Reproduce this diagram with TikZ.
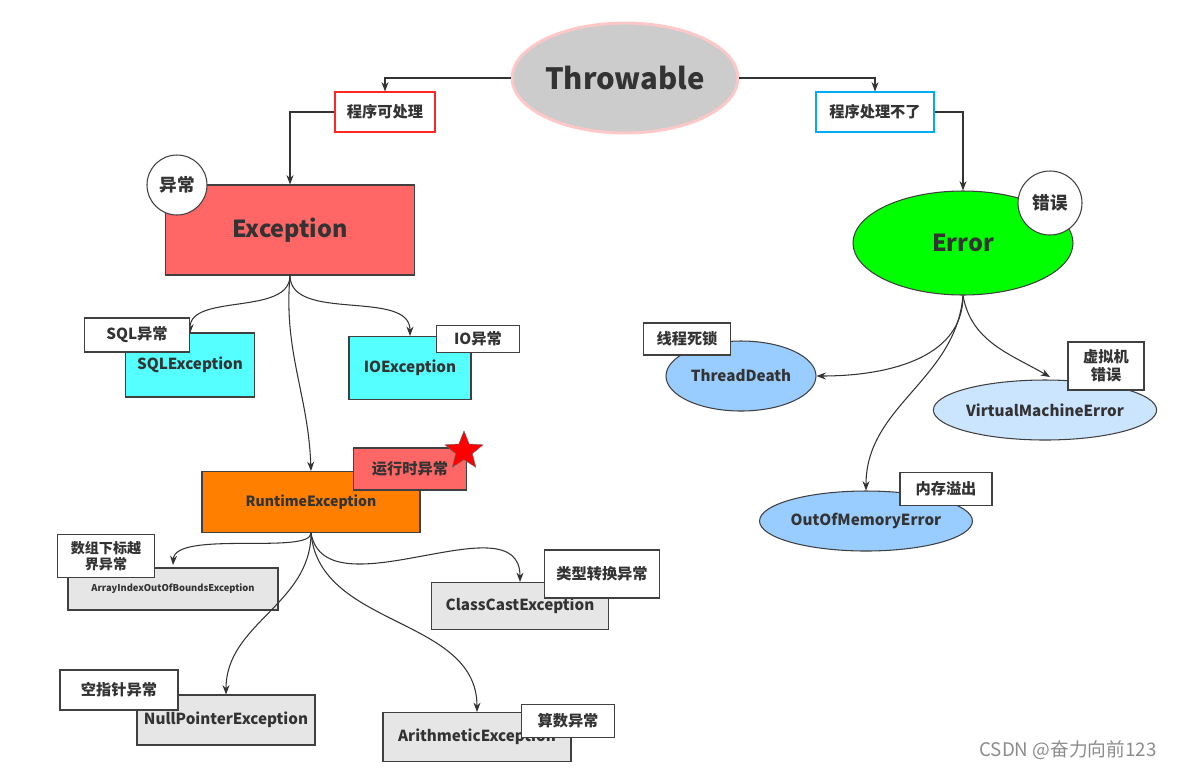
\documentclass[tikz,border=0pt]{standalone}
\usepackage{fontspec}
\setmainfont{Noto Sans CJK SC}
\usetikzlibrary{arrows.meta,shapes.geometric}
\definecolor{cyanbox}{HTML}{55FFFF}
\definecolor{tdblue}{HTML}{99CCFF}
\definecolor{vmeblue}{HTML}{CCE5FF}
\definecolor{excred}{HTML}{FF6666}
\definecolor{rtorange}{HTML}{FF8000}
\definecolor{grayfill}{HTML}{E6E6E6}
\definecolor{pinkrim}{HTML}{FFC8C8}

\begin{document}
\begin{tikzpicture}[
  x=0.03cm, y=-0.03cm,
  >={Stealth[length=8pt,width=6pt]},
  line width=0.9pt,
  ]
  \tikzset{
    box/.style 2 args={draw=black!75, rectangle, minimum width=#1*0.03cm, minimum height=#2*0.03cm, inner sep=0pt, font=\fontsize{13}{15}\selectfont\bfseries, text=black!80},
    oval/.style 2 args={draw=black!75, ellipse, minimum width=#1*0.06cm, minimum height=#2*0.06cm, inner sep=0pt, font=\fontsize{13}{15}\selectfont\bfseries, text=black!80},
    tag/.style 2 args={box={#1}{#2}, fill=white},
    badge/.style={draw=black!75, circle, fill=white, minimum size=#1*0.06cm, inner sep=0pt, font=\fontsize{15}{17}\selectfont\bfseries, text=black!80},
    link/.style={->, draw=black!80},
  }
  \useasboundingbox (0,0) rectangle (1179,771);
  % top level
  \node (throw)[oval={108}{55}, fill=black!20, draw=pinkrim, line width=2.5pt, font=\fontsize{25}{30}\selectfont\bfseries] at (625,78) {Throwable};
  \node (can)[tag={100}{40}, draw=red!85] at (385,112) {程序可处理};
  \node (cannot)[tag={118}{40}, draw=cyan] at (875,112) {程序处理不了};
  \node (exc)[box={249}{90}, fill=excred, font=\fontsize{20}{24}\selectfont\bfseries] at (290,230) {Exception};
  \node (err)[oval={110}{52}, fill=green, font=\fontsize{20}{24}\selectfont\bfseries] at (963,243) {Error};
  \node (excb)[badge=30] at (177,185) {异常};
  \node (errb)[badge=32] at (1050,203) {错误};
  \draw[link] (throw.west) -| (can.north);
  \draw[link] (throw.east) -| (cannot.north);
  \draw[link] (can.west) -| (exc.north);
  \draw[link] (cannot.east) -| (err.north);
  % exceptions
  \node (sql)[box={129}{64}, fill=cyanbox] at (190,365) {SQLException};
  \node (io)[box={122}{63}, fill=cyanbox] at (410,368) {IOException};
  \node (rt)[box={218}{61}, fill=rtorange, font=\fontsize{12}{14}\selectfont\bfseries] at (311,502) {RuntimeException};
  \draw[link] (exc.south) to[out=-90,in=90,looseness=0.9] ++(-100,58);
  \draw[link] (exc.south) to[out=-90,in=90,looseness=0.9] (io.north);
  \draw[link] (exc.south) to[out=-95,in=92] (rt.north);
  \node (sqlt)[tag={105}{34}] at (137,335) {SQL异常};
  \node (iot)[tag={83}{27}] at (478,339) {IO异常};
  \node (rtt)[tag={113}{42}, fill=excred] at (410,469) {运行时异常};
  \node (star)[star, star points=5, star point ratio=2.3, fill=red, draw=black!60, line width=0.4pt, minimum size=1.2cm, inner sep=0pt] at (464,451) {};
  % runtime children
  \node (arr)[box={210}{42}, fill=grayfill, font=\fontsize{8}{10}\selectfont\bfseries] at (173,589) {ArrayIndexOutOfBoundsException};
  \node (cls)[box={177}{47}, fill=grayfill] at (520,606) {ClassCastException};
  \node (npe)[box={178}{50}, fill=grayfill] at (226,720) {NullPointerException};
  \node (ari)[box={188}{49}, fill=grayfill] at (477,737) {ArithmeticException};
  \draw[link] (rt.south) .. controls (311,555) and (175,530) .. (173,565);
  \draw[link] (rt.south) to[out=-80,in=90] (cls.north);
  \draw[link] (rt.south) to[out=-90,in=90] (npe.north);
  \draw[link] (rt.south) to[out=-85,in=90] (ari.north);
  \node (arrt)[tag={97}{43}, align=center, font=\fontsize{12}{14}\selectfont\bfseries] at (106,556) {数组下标越\\界异常};
  \node (clst)[tag={115}{48}] at (602,574) {类型转换异常};
  \node (npet)[tag={118}{40}] at (119,690) {空指针异常};
  \node (arit)[tag={93}{33}] at (568,721) {算数异常};
  % errors
  \node (td)[oval={75}{35}, fill=tdblue] at (741,376) {ThreadDeath};
  \node (vme)[oval={87}{30}, fill=vmeblue] at (1045,410) {VirtualMachineError};
  \node (oom)[oval={85}{30}, fill=tdblue] at (866,521) {OutOfMemoryError};
  \draw[link] (err.south) to[out=-90,in=0] (td.east);
  \draw[link] (err.south) to[out=-80,in=150] (1050,377);
  \draw[link] (err.south) to[out=-95,in=90] (oom.north);
  \node (tdt)[tag={87}{32}] at (687,339) {线程死锁};
  \node (vmet)[tag={76}{48}, align=center] at (1106,366) {虚拟机\\错误};
  \node (oomt)[tag={92}{33}] at (946,489) {内存溢出};
  \node (mark)[text=black!45, font=\fontsize{16}{18}\selectfont] at (1068,750) {CSDN @奋力向前123};
\end{tikzpicture}
\end{document}
